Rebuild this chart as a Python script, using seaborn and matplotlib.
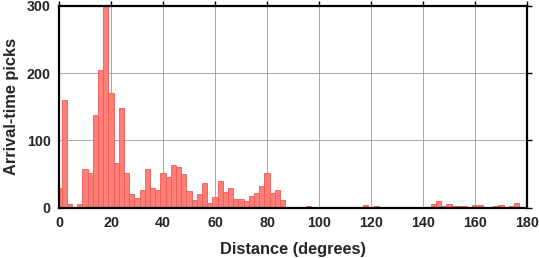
import numpy as np
import pandas as pd
import matplotlib
matplotlib.use("Agg")
import matplotlib.pyplot as plt
import seaborn as sns

# Bin centres (degrees) and counts (2-degree bins)
centers = list(range(0, 182, 2))
counts = [29, 160, 5, 0, 5, 57, 51, 138, 204, 300,
          170, 67, 148, 51, 20, 15, 27, 58, 30, 27,
          52, 46, 63, 61, 50, 25, 11, 21, 36, 7,
          16, 40, 23, 29, 13, 13, 10, 18, 22, 33,
          51, 22, 26, 12, 1, 0, 1, 0, 3, 0,
          0, 0, 0, 1, 0, 0, 0, 0, 0, 4,
          0, 2, 1, 0, 0, 0, 0, 0, 0, 1,
          0, 0, 6, 10, 3, 5, 3, 2, 2, 1,
          4, 4, 1, 1, 2, 4, 1, 3, 7, 1,
          1]
xticks = [0, 20, 40, 60, 80, 100, 120, 140, 160, 180]
yticks = [0, 100, 200, 300]
xlabel = "Distance (degrees)"
ylabel = "Arrival-time picks"

df = pd.DataFrame({"distance": centers, "count": counts})

sns.set_style("white")
plt.rcParams["font.family"] = ["Liberation Sans", "DejaVu Sans"]
plt.rcParams["font.weight"] = "bold"

fig = plt.figure(figsize=(5.39, 2.58), dpi=100)
ax = fig.add_axes([59 / 539, 1 - 207.7 / 258, 468 / 539, 201.8 / 258])

sns.histplot(data=df, x="distance", weights="count", binwidth=2,
             binrange=(-1, 181), ax=ax,
             color="#ff7f78", alpha=1.0, edgecolor="#f05a52", linewidth=0.6,
             zorder=2)

ax.set_xlim(0, 180)
ax.set_ylim(0, 300)
ax.set_xticks(xticks)
ax.set_yticks(yticks)
ax.set_xticklabels([str(t) for t in xticks], fontsize=10.3, fontweight="bold")
ax.set_yticklabels([str(t) for t in yticks], fontsize=10.3, fontweight="bold")
ax.grid(True, color="#9a9a9a", linewidth=0.6, zorder=0)
ax.set_axisbelow(True)
ax.tick_params(axis="both", which="both", direction="out", length=3.5, width=1.0,
               color="black", top=True, right=True, pad=2.5)
for s in ax.spines.values():
    s.set_visible(True)
    s.set_color("black")
    s.set_linewidth(1.6)
    s.set_zorder(5)

ax.set_xlabel(xlabel, fontsize=11.8, fontweight="bold", labelpad=8.5)
ax.set_ylabel(ylabel, fontsize=11.8, fontweight="bold", labelpad=5.5)

fig.savefig("out.png", dpi=100)
